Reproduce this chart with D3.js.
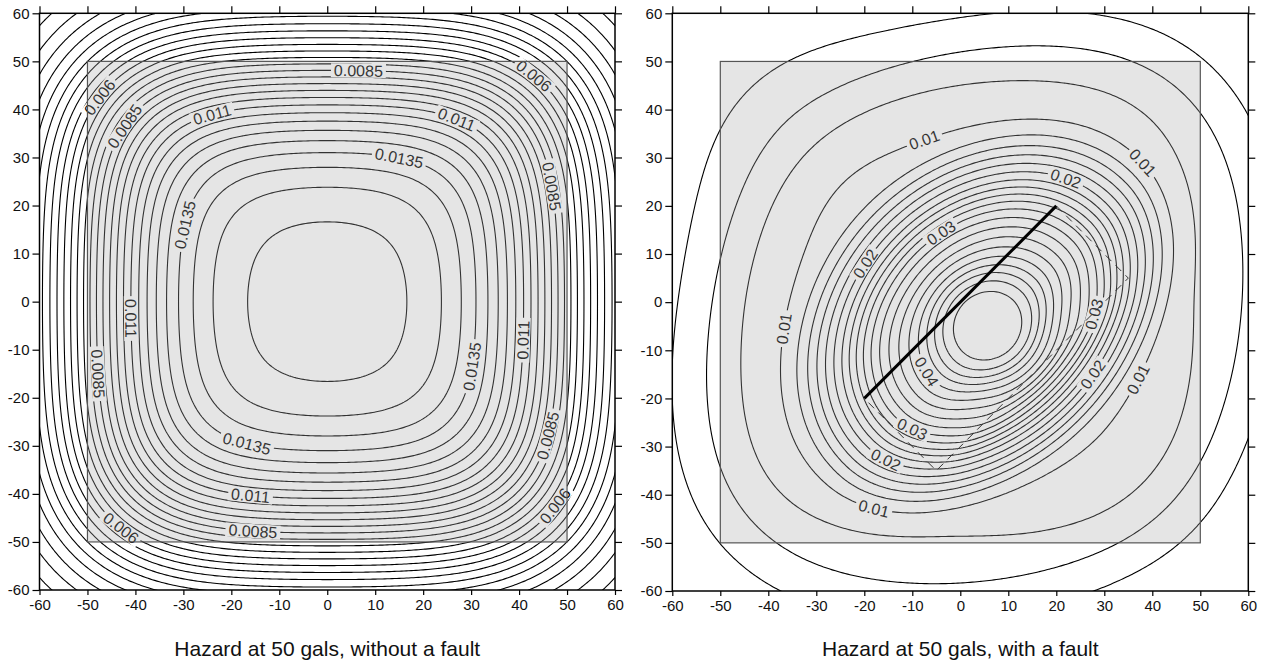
<!DOCTYPE html>
<html><head><meta charset="utf-8">
<script src="https://cdn.jsdelivr.net/npm/d3@7"></script>
<style>
body{margin:0;background:#fff}
text{font-family:"Liberation Sans",Arial,Helvetica,sans-serif}
</style>
</head><body>
<svg id="c" width="1263" height="666"></svg>
<script>
// ---------------- data ----------------
const xTicks = [-60,-50,-40,-30,-20,-10,0,10,20,30,40,50,60];
const yTicks = [-60,-50,-40,-30,-20,-10,0,10,20,30,40,50,60];
const axisDomain = [-60, 60];
const titles = ["Hazard at 50 gals, without a fault", "Hazard at 50 gals, with a fault"];

// source geometry
const sourceSquare = [-50, -50, 50, 50];          // x0, y0, x1, y1
const faultTrace = [[-20, -20], [20, 20]];
const faultPlane = [[-20, -20], [20, 20], [35, 5], [-5, -35]];

// area source: attenuation kernel (mixture of two gaussians) and rate
const kernelWeights = [0.85, 0.15];
const kernelSigmas = [15.5, 35];
const areaRate = 0.016;
const bgFraction = 0.4;           // share of the area source kept when a fault exists

// fault contribution: hazard vs. distance from the peak (along strike)
const faultPeak = [5.8, -5];
const coreDist =   [0,      6.5,    15.9,   27,     35.5,   45.9,   55,  80];
const coreHazard = [0.0372, 0.0362, 0.0281, 0.0189, 0.0098, 0.0014, 0.0, 0.0];
const tailDist =   [0,      20,     35,     46,     52,     58,     66,     75,     90,     110,    150];
const tailHazard = [0.0065, 0.0058, 0.0049, 0.0047, 0.0046, 0.0042, 0.0032, 0.0021, 0.0013, 0.0006, 0.0];
const coreShrink = [0.78, 0.64];  // across-strike shrink of the core: north-west side, south-east side
const tailShrink = [0.80, 0.80];  // same for the far field
const edgeRidge = [0.0012, 2.5];  // small ridge along the lower edge of the fault plane: height, width

// contour levels
const levelsNoFault = [0.0005,0.001,0.0015,0.002,0.0025,0.003,0.0035,0.004,0.0045,0.005,0.0055,0.006,0.0065,0.007,0.0075,0.008,0.0085,0.009,0.0095,0.01,0.0105,0.011,0.0115,0.012,0.0125,0.013,0.0135,0.014,0.0145,0.015];
const levelsFault = [0.004,0.006,0.008,0.01,0.012,0.014,0.016,0.018,0.02,0.022,0.024,0.026,0.028,0.03,0.032,0.034,0.036,0.038,0.04,0.042,0.044,0.046,0.048,0.05];

// contour labels: level, approximate x, y
const labelLevelsNoFault = [0.0085,0.0085,0.0085,0.0085,0.0085,0.0085, 0.006,0.006,0.006,0.006, 0.011,0.011,0.011,0.011,0.011, 0.0135,0.0135,0.0135,0.0135];
const labelXNoFault = [6.6,-41.7,46.4,-47.6,45.4,-15.4, 42.3,-46.7,46.8,-42.4, -24,27,-41,40.9,-15.8, 15,-30,30.2,-16.8];
const labelYNoFault = [47.9,35.9,24,-15,-27.7,-47.3, 46,42.3,-42.2,-46.6, 38.6,37.8,-3.4,-8.1,-40.1, 30.2,16.3,-13.5,-29.4];

const labelLevelsFault = [0.01,0.01,0.01,0.01,0.01, 0.02,0.02,0.02,0.02, 0.03,0.03,0.03, 0.04];
const labelXFault = [-7,38.1,-37.2,37.8,-18.5, -19.5,22.5,27.7,-16, -4,28.2,-9.8, -7];
const labelYFault = [31.6,28.8,-5.2,-16.2,-43.9, 8,26.4,-14.8,-33.6, 14,-2.5,-26.3, -14.2];

// ---------------- model ----------------
function erf(x){const s=Math.sign(x);x=Math.abs(x);const t=1/(1+0.3275911*x);
  const y=1-(((((1.061405429*t-1.453152027)*t)+1.421413741)*t-0.284496736)*t+0.254829592)*t*Math.exp(-x*x);return s*y;}
const Phi = z => 0.5*(1+erf(z/Math.SQRT2));

function areaHazard(x, y){
  let s = 0;
  for (let k=0;k<kernelWeights.length;k++){
    const sg = kernelSigmas[k];
    const sx = Phi((sourceSquare[2]-x)/sg) - Phi((sourceSquare[0]-x)/sg);
    const sy = Phi((sourceSquare[3]-y)/sg) - Phi((sourceSquare[1]-y)/sg);
    s += kernelWeights[k]*sx*sy;
  }
  return areaRate*s;
}

function monotoneCubic(xs, ys){
  const n = xs.length, d = [], m = new Array(n);
  for (let i=0;i<n-1;i++) d.push((ys[i+1]-ys[i])/(xs[i+1]-xs[i]));
  m[0]=d[0]; m[n-1]=d[n-2];
  for (let i=1;i<n-1;i++) m[i] = d[i-1]*d[i] <= 0 ? 0 : (d[i-1]+d[i])/2;
  for (let i=0;i<n-1;i++){
    if (d[i]===0){ m[i]=0; m[i+1]=0; continue; }
    const a=m[i]/d[i], b=m[i+1]/d[i], s=a*a+b*b;
    if (s>9){ const t=3/Math.sqrt(s); m[i]=t*a*d[i]; m[i+1]=t*b*d[i]; }
  }
  return x => {
    if (x<=xs[0]) return ys[0];
    if (x>=xs[n-1]) return ys[n-1];
    const i = d3.bisectRight(xs, x)-1;
    const h = xs[i+1]-xs[i], t = (x-xs[i])/h, t2=t*t, t3=t2*t;
    return (2*t3-3*t2+1)*ys[i] + (t3-2*t2+t)*h*m[i] + (-2*t3+3*t2)*ys[i+1] + (t3-t2)*h*m[i+1];
  };
}
const coreProfile = monotoneCubic(coreDist, coreHazard);
const tailProfile = monotoneCubic(tailDist, tailHazard);
const P0 = faultTrace[0], P1 = faultTrace[1];
const Lf = Math.hypot(P1[0]-P0[0], P1[1]-P0[1]);
const eu = [(P1[0]-P0[0])/Lf, (P1[1]-P0[1])/Lf];
const dv = [faultPlane[2][0]-faultPlane[1][0], faultPlane[2][1]-faultPlane[1][1]];
const Wf = Math.hypot(dv[0], dv[1]);
const ev = [dv[0]/Wf, dv[1]/Wf];
const E0 = faultPlane[3], E1 = faultPlane[2];
function faultHazard(x, y){
  const dx = x-faultPeak[0], dy = y-faultPeak[1];
  const u = dx*eu[0]+dy*eu[1], v = dx*ev[0]+dy*ev[1];
  const side = v > 0 ? 1 : 0;
  const r0 = Math.hypot(u, v);
  const f = Math.min(1, r0/18), blend = f*f*(3-2*f);
  const bc = 1-(1-coreShrink[side])*blend, bt = tailShrink[side];
  const rc = Math.sqrt(u*u + (v/bc)*(v/bc));
  const rt = Math.sqrt(u*u + (v/bt)*(v/bt));
  const ex = x-E0[0], ey = y-E0[1];
  const s = (ex*eu[0]+ey*eu[1])/Lf;
  const sc = Math.max(0, Math.min(1, s));
  const dd = Math.hypot(x-(E0[0]+sc*(E1[0]-E0[0])), y-(E0[1]+sc*(E1[1]-E0[1])));
  const taper = Math.sin(Math.PI*sc);
  const ridge = edgeRidge[0]*taper*Math.exp(-dd*dd/(2*edgeRidge[1]*edgeRidge[1]));
  return coreProfile(rc) + tailProfile(rt) + ridge;
}

// ---------------- drawing ----------------
const svg = d3.select("#c");
const defs = svg.append("defs");
const gmin = -66, gmax = 66, step = 0.5;
const n = Math.round((gmax-gmin)/step)+1;

function buildGrid(f){
  const vals = new Float64Array(n*n);
  for (let j=0;j<n;j++) for (let i=0;i<n;i++) vals[j*n+i] = f(gmin+i*step, gmin+j*step);
  return vals;
}

function drawPanel(cfg){
  const {id, x0, x1, y0, y1, values, levels, labLevels, labX, labY, title, withFault} = cfg;
  const xs = d3.scaleLinear().domain(axisDomain).range([x0, x1]);
  const ys = d3.scaleLinear().domain(axisDomain).range([y1, y0]);
  defs.append("clipPath").attr("id","clip"+id).append("rect")
    .attr("x",x0).attr("y",y0).attr("width",x1-x0).attr("height",y1-y0);
  const mask = defs.append("mask").attr("id","mask"+id).attr("maskUnits","userSpaceOnUse")
    .attr("x",0).attr("y",0).attr("width",1263).attr("height",666);
  mask.append("rect").attr("x",0).attr("y",0).attr("width",1263).attr("height",666).attr("fill","#fff");

  const cs = d3.contours().size([n,n]).thresholds(levels)(values);
  const toPx = p => [xs(gmin+(p[0]-0.5)*step), ys(gmin+(p[1]-0.5)*step)];
  const rings = [];
  cs.forEach(c => c.coordinates.forEach(poly => poly.forEach(ring => rings.push({value:c.value, pts:ring.map(toPx)}))));

  const g = svg.append("g").attr("clip-path","url(#clip"+id+")");
  const lineG = g.append("g").attr("mask","url(#mask"+id+")");
  const line = d3.line();
  lineG.selectAll("path").data(rings).join("path")
    .attr("d", r => line(r.pts))
    .attr("fill","none").attr("stroke","#000").attr("stroke-width",1.1);

  const labG = g.append("g");
  labLevels.forEach((lv, li) => {
    const tx = xs(labX[li]), ty = ys(labY[li]);
    let best = null, bd = Infinity;
    rings.forEach(r => {
      if (Math.abs(r.value-lv) > 1e-9) return;
      r.pts.forEach((p, pi) => { const d = (p[0]-tx)**2+(p[1]-ty)**2; if (d < bd){bd=d; best={r, pi};} });
    });
    if (!best) return;
    const pts = best.r.pts, m = pts.length-1, k = 4;
    const a = pts[((best.pi-k)%m+m)%m], b = pts[(best.pi+k)%m];
    let ang = Math.atan2(b[1]-a[1], b[0]-a[0])*180/Math.PI;
    if (ang > 90) ang -= 180; if (ang < -90) ang += 180;
    const p = pts[best.pi];
    const t = labG.append("text").attr("transform",`translate(${p[0]},${p[1]}) rotate(${ang})`)
      .attr("text-anchor","middle").attr("dy","0.36em").attr("font-size",16).attr("fill","#000")
      .text(String(lv));
    const w = t.node().getComputedTextLength()+6;
    mask.append("rect").attr("x",-w/2).attr("y",-7).attr("width",w).attr("height",14)
      .attr("transform",`translate(${p[0]},${p[1]}) rotate(${ang})`).attr("fill","#000");
  });

  if (withFault){
    g.append("path").attr("d", d3.line()(faultPlane.slice(1).concat([faultPlane[0]]).map(q=>[xs(q[0]),ys(q[1])])))
      .attr("fill","none").attr("stroke","#000").attr("stroke-width",1).attr("stroke-dasharray","8,6");
  }
  g.append("rect").attr("x",xs(sourceSquare[0])).attr("y",ys(sourceSquare[3]))
    .attr("width",xs(sourceSquare[2])-xs(sourceSquare[0])).attr("height",ys(sourceSquare[1])-ys(sourceSquare[3]))
    .attr("fill","#a8a8a8").attr("fill-opacity",0.3).attr("stroke","#555").attr("stroke-width",1.2);
  if (withFault){
    g.append("path").attr("d", d3.line()(faultTrace.map(q=>[xs(q[0]),ys(q[1])])))
      .attr("stroke","#000").attr("stroke-width",3).attr("fill","none");
  }

  const fmt = d => String(d);
  const ax = svg.append("g");
  const aL = ax.append("g").attr("transform",`translate(${x0},0)`).call(d3.axisLeft(ys).tickValues(yTicks).tickSize(7).tickPadding(3).tickFormat(fmt));
  const aB = ax.append("g").attr("transform",`translate(0,${y1})`).call(d3.axisBottom(xs).tickValues(xTicks).tickSize(5).tickPadding(4).tickFormat(fmt));
  const aT = ax.append("g").attr("transform",`translate(0,${y0})`).call(d3.axisTop(xs).tickValues(xTicks).tickSize(7).tickFormat(""));
  const aR = ax.append("g").attr("transform",`translate(${x1},0)`).call(d3.axisRight(ys).tickValues(yTicks).tickSize(7).tickFormat(""));
  [aL,aB,aT,aR].forEach(a => { a.select(".domain").remove();
    a.selectAll("text").attr("font-family","Liberation Sans, Arial, sans-serif").attr("font-size",15).attr("fill","#111");
    a.selectAll("line").attr("stroke","#000").attr("stroke-width",1.2); });
  ax.append("rect").attr("x",x0).attr("y",y0).attr("width",x1-x0).attr("height",y1-y0)
    .attr("fill","none").attr("stroke","#000").attr("stroke-width",1.5);
  svg.append("text").attr("x",(x0+x1)/2).attr("y",656).attr("text-anchor","middle")
    .attr("font-size",21).attr("fill","#111").text(title);
}

const valsL = buildGrid(areaHazard);
const fr = buildGrid(faultHazard);
const valsR = new Float64Array(n*n);
for (let i=0;i<n*n;i++) valsR[i] = bgFraction*valsL[i] + fr[i];

drawPanel({id:1, x0:39.5, x1:615, y0:13.3, y1:590, values:valsL, levels:levelsNoFault,
  labLevels:labelLevelsNoFault, labX:labelXNoFault, labY:labelYNoFault, title:titles[0], withFault:false});
drawPanel({id:2, x0:672.3, x1:1248.3, y0:13.3, y1:591, values:valsR, levels:levelsFault,
  labLevels:labelLevelsFault, labX:labelXFault, labY:labelYFault, title:titles[1], withFault:true});
</script>
</body></html>
